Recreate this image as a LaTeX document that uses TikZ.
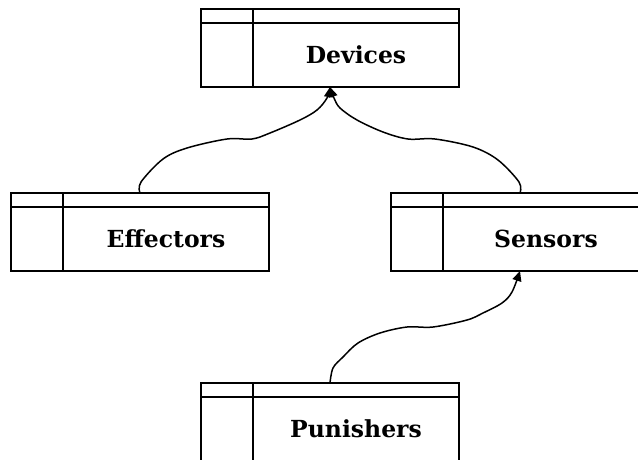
\documentclass[tikz,border=0pt]{standalone}
\usepackage{fontspec}
\newfontfamily\labelfont{DejaVu Serif}
\usetikzlibrary{arrows.meta,calc}

% one class box: outer frame, header rule, left divider and the name
\newcommand\classbox[4]{%
  \node[classframe] (#1) at (#2,#3) {};
  \draw[rule] ([yshift=-14pt]#1.north west) -- ([yshift=-14pt]#1.north east);
  \draw[rule] ([xshift=52pt]#1.north west) -- ([xshift=52pt]#1.south west);
  \node[classlabel] (#1-label) at
    ($(#1.south east)!0.5!([xshift=52pt,yshift=-14pt]#1.north west)$) {#4};
}

\begin{document}
\begin{tikzpicture}[x=1pt,y=-1pt,
  rule/.style={line width=1.6pt},
  classframe/.style={draw, line width=1.6pt, minimum width=258pt, minimum height=78pt,
    inner sep=0pt, outer sep=0pt, anchor=north west},
  classlabel/.style={inner sep=0pt, font=\labelfont\bfseries\fontsize{23.5pt}{26pt}\selectfont},
  conn/.style={line width=1.5pt, -{Triangle[width=9pt,length=10pt]}},
]
\useasboundingbox (0,0) rectangle (638,459);
\clip (0,0) rectangle (638,459);

\classbox{dev}{201}{9}{Devices}
\classbox{eff}{11}{193}{Effectors}
\classbox{sen}{391}{193}{Sensors}
\classbox{pun}{201}{383}{Punishers}

% generalisation links
\draw[conn] plot[smooth, tension=0.55] coordinates {(eff.north) (141,182) (163,159)
  (187,148) (227,139) (252,139) (270,133) (300,120) (317,110) (327,98) (dev.south)};
\draw[conn] plot[smooth, tension=0.55] coordinates {(sen.north) (519,182) (498,160)
  (473,147) (435,139) (408,139) (383,132) (357,120) (340,108) (334,98) (dev.south)};
\draw[conn] plot[smooth, tension=0.55] coordinates {(pun.north) (333,368) (343,357)
  (358,343) (380,333) (407,327) (433,327) (467,320) (483,313) (502,303) (512,292) (sen.south)};
\end{tikzpicture}
\end{document}
